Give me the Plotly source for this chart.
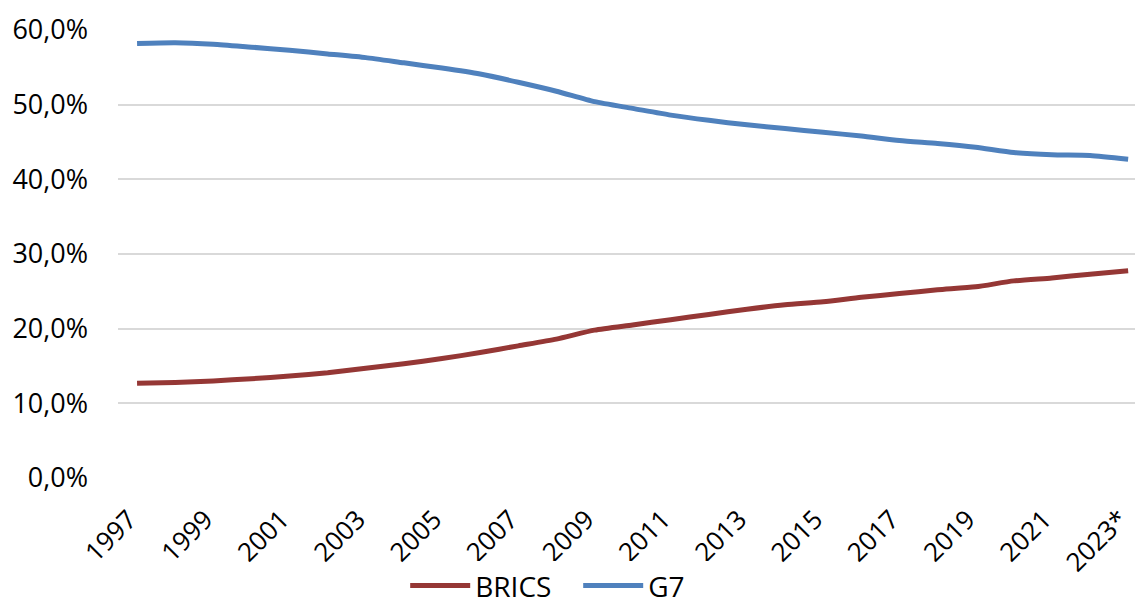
import plotly.graph_objects as go

years = ["1997", "1998", "1999", "2000", "2001", "2002", "2003", "2004", "2005", "2006",
         "2007", "2008", "2009", "2010", "2011", "2012", "2013", "2014", "2015", "2016",
         "2017", "2018", "2019", "2020", "2021", "2022", "2023*"]
tick_years = years[::2]

brics = [12.7, 12.8, 13.0, 13.3, 13.65, 14.1, 14.7, 15.3, 16.0, 16.8,
         17.7, 18.6, 19.8, 20.5, 21.2, 21.9, 22.6, 23.2, 23.6, 24.2,
         24.7, 25.2, 25.6, 26.4, 26.8, 27.3, 27.75]
g7 = [58.2, 58.3, 58.1, 57.7, 57.3, 56.8, 56.3, 55.6, 54.9, 54.1,
      53.0, 51.8, 50.4, 49.5, 48.6, 47.9, 47.3, 46.8, 46.3, 45.8,
      45.2, 44.8, 44.3, 43.6, 43.3, 43.2, 42.7]

fig = go.Figure()
fig.add_trace(go.Scatter(x=years, y=brics, name="BRICS", mode="lines",
                         line=dict(color="#953735", width=5, shape="spline", smoothing=0.6)))
fig.add_trace(go.Scatter(x=years, y=g7, name="G7", mode="lines",
                         line=dict(color="#4F81BD", width=5, shape="spline", smoothing=0.6)))

font_family = "Open Sans, Noto Sans, sans-serif"
fig.update_layout(
    width=1135, height=612,
    margin=dict(l=118, r=0, t=30, b=134, autoexpand=False),
    plot_bgcolor="white", paper_bgcolor="white",
    font=dict(family=font_family, size=26, color="#000000"),
    showlegend=True,
    legend=dict(orientation="h", xref="container", x=0.357, xanchor="left",
                yref="paper", y=-0.185, yanchor="top",
                font=dict(size=28), entrywidth=98, entrywidthmode="pixels",
                itemwidth=60, traceorder="normal", tracegroupgap=0),
    xaxis=dict(type="category", range=[-0.5, 26.18], tickmode="array",
               tickvals=tick_years, ticktext=tick_years, tickangle=-45,
               showgrid=False, showline=False, zeroline=False, ticks="",
               automargin=False, ticklabelshift=-8, ticklabelstandoff=20,
               tickfont=dict(size=26)),
    yaxis=dict(range=[0, 60], tickvals=[0, 10, 20, 30, 40, 50, 60],
               ticktext=["0,0%", "10,0%", "20,0%", "30,0%", "40,0%", "50,0%", "60,0%"],
               showgrid=True, gridcolor="#D9D9D9", gridwidth=2,
               zeroline=False, showline=False, ticks="", ticklabelstandoff=29,
               automargin=False, tickfont=dict(size=27)),
)
fig.write_html(
    "out.html",
    config={"displayModeBar": False},
    post_script="document.body.style.margin='0';document.body.style.overflow='hidden';",
)
